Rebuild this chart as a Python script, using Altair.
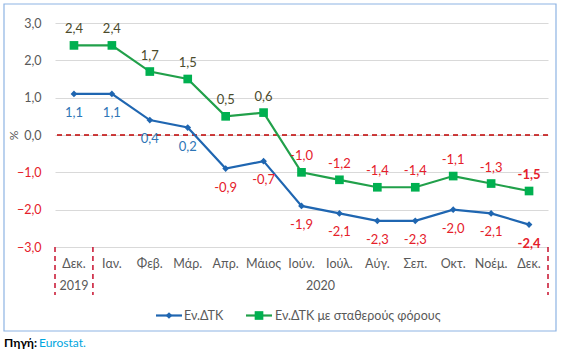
import altair as alt
import pandas as pd

months = ["Δεκ.", "Ιαν.", "Φεβ.", "Μάρ.", "Απρ.", "Μάιος", "Ιούν.", "Ιούλ.", "Αύγ.", "Σεπ.", "Οκτ.", "Νοέμ.", "Δεκ."]
years = ["2019"] + ["2020"] * 12
hicp = [1.1, 1.1, 0.4, 0.2, -0.9, -0.7, -1.9, -2.1, -2.3, -2.3, -2.0, -2.1, -2.4]
hicp_ct = [2.4, 2.4, 1.7, 1.5, 0.5, 0.6, -1.0, -1.2, -1.4, -1.4, -1.1, -1.3, -1.5]
series_names = ["Εν.ΔΤΚ", "Εν.ΔΤΚ με σταθερούς φόρους"]
y_ticks = [-3, -2, -1, 0, 1, 2, 3]
source_label = "Πηγή:"
source_name = "Eurostat."

FONT = "Lato"
BLUE = "#1f66b1"
BLUE_LBL = "#2e75b6"
GREEN_LINE = "#21a04a"
GREEN_MK = "#00b050"
OLIVE = "#4b4b2c"
RED = "#e5202a"
GRAY = "#595959"

keys = [f"{m}|{y}" for m, y in zip(months, years)]
rows = []
for i, k in enumerate(keys):
    rows.append({"key": k, "idx": i, "series": series_names[0], "value": hicp[i],
                 "label": f"{hicp[i]:.1f}".replace(".", ",")})
    rows.append({"key": k, "idx": i, "series": series_names[1], "value": hicp_ct[i],
                 "label": f"{hicp_ct[i]:.1f}".replace(".", ",")})
df = pd.DataFrame(rows)

xscale = alt.Scale(type="band", domain=keys, paddingInner=0, paddingOuter=0)
yscale = alt.Scale(domain=[-3, 3], nice=False)

XAXIS = alt.Axis(title=None, labelExpr="split(datum.value,'|')[0]", domain=False, ticks=False,
                 grid=False, labelPadding=10, labelAngle=0, labelColor=GRAY, labelFont=FONT,
                 labelFontSize=12.5, labelOverlap=False)

YAXIS = alt.Axis(values=y_ticks, grid=True, gridColor="#d9d9d9", domain=False, ticks=False,
                 labelExpr="replace(format(datum.value,'.1f'),'.',',')",
                 labelColor={"condition": {"test": "datum.value < 0", "value": RED}, "value": GRAY},
                 labelFont=FONT, labelFontSize=12.5, labelPadding=14, labelOverlap=False,
                 title="%", titleFont=FONT, titleFontSize=12, titleColor=GRAY,
                 titleFontWeight="normal", titleX=-42, titleY=112, titleAngle=-90,
                 titleAlign="center", titleBaseline="middle")

def X(bp=0.5):
    return alt.X("key:N", scale=xscale, sort=keys, bandPosition=bp, axis=XAXIS)

def Y():
    return alt.Y("value:Q", scale=yscale, axis=YAXIS)

base = alt.Chart(df)
blue = base.transform_filter(alt.datum.series == series_names[0])
green = base.transform_filter(alt.datum.series == series_names[1])

zero = alt.Chart(alt.Data(values=[{}])).mark_rule(color="#c00000", strokeDash=[5, 4], strokeWidth=1.5).encode(
    y=alt.Y(datum=0, scale=yscale, axis=YAXIS)
)

line_blue = blue.mark_line(color=BLUE, strokeWidth=2.2,
                           point=alt.OverlayMarkDef(shape="diamond", size=45, filled=True, color=BLUE, opacity=1)
                           ).encode(x=X(), y=Y())
line_green = green.mark_line(color=GREEN_LINE, strokeWidth=2.2,
                             point=alt.OverlayMarkDef(shape="square", size=75, filled=True, color=GREEN_MK, opacity=1)
                             ).encode(x=X(), y=Y())

def labels(src, dy, pos_color, bold):
    s = src.transform_filter("datum.idx == 12" if bold else "datum.idx < 12")
    return s.mark_text(font=FONT, fontSize=13, dy=dy, baseline="middle",
                       fontWeight="bold" if bold else "normal").encode(
        x=X(), y=Y(), text="label:N",
        color=alt.condition("datum.value < 0", alt.value(RED), alt.value(pos_color)))

lbl_layers = [labels(green, -16, OLIVE, False), labels(green, -16, OLIVE, True),
              labels(blue, 19, BLUE_LBL, False), labels(blue, 19, BLUE_LBL, True)]

# year separators
sep_df = df[df.series == series_names[0]]
sep = alt.Chart(sep_df)
sep_left = sep.transform_filter("datum.idx <= 1").mark_rule(color="#c8102e", strokeDash=[5, 4], strokeWidth=1.5).encode(
    x=X(0), y=alt.value(224), y2=alt.value(272))
sep_right = sep.transform_filter("datum.idx == 12").mark_rule(color="#c8102e", strokeDash=[5, 4], strokeWidth=1.5).encode(
    x=X(1), y=alt.value(224), y2=alt.value(272))

# year labels
yr_2019 = sep.transform_filter("datum.idx == 0").transform_calculate(yr="split(datum.key,'|')[1]").mark_text(
    font=FONT, fontSize=12.5, color=GRAY, baseline="middle").encode(x=X(0.5), y=alt.value(263), text="yr:N")
yr_2020 = sep.transform_filter("datum.idx == 6").transform_calculate(yr="split(datum.key,'|')[1]").mark_text(
    font=FONT, fontSize=12.5, color=GRAY, baseline="middle").encode(x=X(1), y=alt.value(263), text="yr:N")

# legend
one = alt.Data(values=[{}])
leg = [
    alt.Chart(one).mark_rule(color=BLUE, strokeWidth=2.2).encode(x=alt.value(101), x2=alt.value(127), y=alt.value(292.5)),
    alt.Chart(one).mark_point(shape="diamond", size=45, filled=True, color=BLUE, opacity=1).encode(x=alt.value(114), y=alt.value(292.5)),
    alt.Chart(one).mark_text(text=series_names[0], font=FONT, fontSize=12.5, color=GRAY, align="left", baseline="middle").encode(x=alt.value(129), y=alt.value(292.5)),
    alt.Chart(one).mark_rule(color=GREEN_LINE, strokeWidth=2.2).encode(x=alt.value(191), x2=alt.value(217), y=alt.value(292.5)),
    alt.Chart(one).mark_point(shape="square", size=75, filled=True, color=GREEN_MK, opacity=1).encode(x=alt.value(204), y=alt.value(292.5)),
    alt.Chart(one).mark_text(text=series_names[1], font=FONT, fontSize=12.5, color=GRAY, align="left", baseline="middle").encode(x=alt.value(220), y=alt.value(292.5)),
]

frame = alt.Chart(one).mark_rect(filled=False, stroke="#8eb4e3", strokeWidth=1.2).encode(
    x=alt.value(-51), x2=alt.value(501), y=alt.value(-19), y2=alt.value(308))

src = [
    alt.Chart(one).mark_text(text=source_label, font=FONT, fontSize=12, fontWeight="bold", color="#000000",
                             align="left", baseline="middle").encode(x=alt.value(-51), y=alt.value(320)),
    alt.Chart(one).mark_text(text=source_name, font=FONT, fontSize=12, color="#00a6e0",
                             align="left", baseline="middle").encode(x=alt.value(-16), y=alt.value(320)),
]

chart = alt.layer(
    zero, line_green, line_blue, *lbl_layers, sep_left, sep_right, yr_2019, yr_2020, *leg, frame, *src
).properties(
    width=493, height=224,
    autosize=alt.AutoSizeParams(type="none"),
    padding={"left": 55, "top": 23, "right": 14, "bottom": 105},
    background="white",
).configure_view(stroke=None).configure_axisY(labelOverlap=False)

chart.save("out.html", embed_options={"renderer": "svg", "actions": False})
